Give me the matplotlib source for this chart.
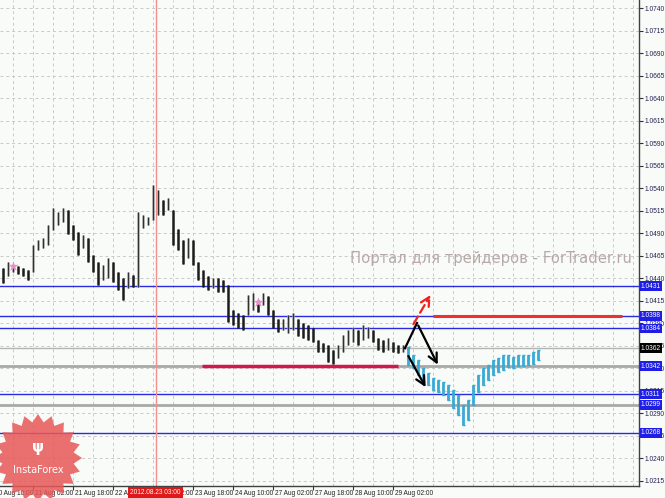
import numpy as np
import matplotlib
matplotlib.use("Agg")
import matplotlib.pyplot as plt
import matplotlib.transforms as mtransforms
from matplotlib import font_manager
from matplotlib.patches import Polygon

# ---------------------------------------------------------------- data
BAR_STEP = 2          # hours between bars
FIRST_BAR = 4         # hours after 20 Aug 10:00

hist_high = [1.0451, 1.0458, 1.0454, 1.0453, 1.0451, 1.0449, 1.0477, 1.0482, 1.0484, 1.0499,
             1.0518, 1.0513, 1.0518, 1.0516, 1.0499, 1.0491, 1.0488, 1.0484, 1.0466, 1.0458,
             1.0454, 1.0462, 1.0458, 1.0447, 1.0440, 1.0447, 1.0443, 1.0513, 1.0510, 1.0508,
             1.0543, 1.0538, 1.0527, 1.0529, 1.0516, 1.0495, 1.0482, 1.0484, 1.0482, 1.0458,
             1.0449, 1.0442, 1.0440, 1.0440, 1.0438, 1.0432, 1.0404, 1.0401, 1.0399, 1.0421,
             1.0423, 1.0416, 1.0423, 1.0420, 1.0404, 1.0395, 1.0395, 1.0399, 1.0401, 1.0395,
             1.0390, 1.0388, 1.0384, 1.0371, 1.0368, 1.0366, 1.0360, 1.0366, 1.0377, 1.0382,
             1.0384, 1.0382, 1.0388, 1.0386, 1.0382, 1.0373, 1.0371, 1.0373, 1.0369, 1.0366,
             1.0366]
hist_low = [1.0435, 1.0442, 1.0447, 1.0445, 1.0442, 1.0438, 1.0447, 1.0471, 1.0473, 1.0477,
            1.0493, 1.0499, 1.0502, 1.0489, 1.0482, 1.0466, 1.0473, 1.0458, 1.0447, 1.0432,
            1.0438, 1.0440, 1.0436, 1.0427, 1.0416, 1.0429, 1.0430, 1.0430, 1.0496, 1.0499,
            1.0504, 1.0510, 1.0510, 1.0516, 1.0477, 1.0471, 1.0456, 1.0462, 1.0454, 1.0438,
            1.0430, 1.0427, 1.0429, 1.0424, 1.0424, 1.0391, 1.0388, 1.0385, 1.0382, 1.0399,
            1.0405, 1.0402, 1.0410, 1.0399, 1.0385, 1.0380, 1.0382, 1.0379, 1.0382, 1.0376,
            1.0373, 1.0371, 1.0369, 1.0358, 1.0358, 1.0347, 1.0345, 1.0351, 1.0358, 1.0366,
            1.0369, 1.0366, 1.0371, 1.0373, 1.0369, 1.0360, 1.0358, 1.0360, 1.0358, 1.0357,
            1.0358]

fc_high = [1.0363, 1.0355, 1.0349, 1.0340, 1.0335, 1.0329, 1.0327, 1.0324, 1.0321, 1.0316,
           1.0310, 1.0299, 1.0304, 1.0321, 1.0332, 1.0340, 1.0343, 1.0349, 1.0351, 1.0355,
           1.0355, 1.0352, 1.0355, 1.0354, 1.0355, 1.0358, 1.0360]
fc_low = [1.0343, 1.0340, 1.0332, 1.0324, 1.0321, 1.0316, 1.0313, 1.0310, 1.0304, 1.0296,
          1.0288, 1.0277, 1.0282, 1.0299, 1.0313, 1.0321, 1.0327, 1.0332, 1.0336, 1.0338,
          1.0341, 1.0340, 1.0342, 1.0342, 1.0343, 1.0345, 1.0349]

blue_levels = [1.0431, 1.0398, 1.0384, 1.0311, 1.0268]
gray_levels = [1.0362]
gray_thick_levels = [1.0342, 1.0299]
label_levels = [1.0431, 1.0398, 1.0384, 1.0342, 1.0311, 1.0299, 1.0268]
current_price = 1.0362

support_line = (83.6, 162.0, 1.0342)     # (start h, end h, price)
target_line = (176.0, 251.6, 1.0398)

zigzag_h = [164.8, 169.6, 178.4]
zigzag_p = [1.0362, 1.0390, 1.0341]
down_h = [165.6, 173.6]
down_p = [1.0356, 1.0316]
up_h = [167.6, 175.6]
up_p = [1.0386, 1.0424]

star_h = [8.0, 106.0]
star_p = [1.0453, 1.0413]

price_ticks = np.arange(1.0215, 1.07401, 0.0025)
time_ticks = [0, 16, 32, 48, 64, 80, 96, 112, 128, 144, 160]
time_labels = ["20 Aug 10:00", "21 Aug 02:00", "21 Aug 18:00", "22 Aug 10:00",
               "23 Aug 02:00", "23 Aug 18:00", "24 Aug 10:00", "27 Aug 02:00",
               "27 Aug 18:00", "28 Aug 10:00", "29 Aug 02:00"]
vline_h = 65
vline_label = "2012.08.23 03:00"

# ---------------------------------------------------------------- fonts
installed = {f.name for f in font_manager.fontManager.ttflist}
if "Liberation Sans Narrow" in installed:
    PRICE_FONT = dict(family="Liberation Sans Narrow", fontsize=5.4)
    TIME_FONT = dict(family="Liberation Sans Narrow", fontsize=5.6)
else:
    PRICE_FONT = dict(family="Liberation Sans", fontsize=4.8)
    TIME_FONT = dict(family="Liberation Sans", fontsize=4.7)

# ---------------------------------------------------------------- figure
BG = "#f8fbf8"
BLUE = "#2a2ae0"
fig = plt.figure(figsize=(6.65, 4.98), dpi=100, facecolor=BG)
ax = fig.add_axes([0, 12 / 498, 639 / 665, 486 / 498])
ax.set_facecolor(BG)
ax.set_xlim(2.8, 258.4)
ax.set_ylim(1.07489 - 486 / 9000, 1.07489)

for s in ("left", "top"):
    ax.spines[s].set_visible(False)
for s in ("right", "bottom"):
    ax.spines[s].set_color("#404040")
    ax.spines[s].set_linewidth(1.0)

# grid
for h in np.arange(8, 258, 8):
    ax.axvline(h, color="#c8cac8", lw=0.7, ls=(0, (3, 3)), zorder=0)
for p in price_ticks:
    ax.axhline(p, color="#c8cac8", lw=0.7, ls=(0, (3, 3)), zorder=0)

# levels
for p in blue_levels:
    ax.axhline(p, color=BLUE, lw=1.0, zorder=1)
for p in gray_levels:
    ax.axhline(p, color="#b4b4b4", lw=1.0, zorder=1)
for p in gray_thick_levels:
    ax.axhline(p, color="#a8a8a8", lw=2.0, zorder=1)

ax.axvline(vline_h, color="#f29090", lw=1.0, zorder=1)

# historical bars
hist_t = FIRST_BAR + BAR_STEP * np.arange(len(hist_high))
mid = (np.array(hist_high) + np.array(hist_low)) / 2
for i, t in enumerate(hist_t):
    up = i > 0 and mid[i] >= mid[i - 1]
    ax.vlines(t, hist_low[i], hist_high[i], color="#9a9a9a" if up else "#1c1c1c",
              lw=1.8, zorder=3)
    ax.vlines(t, hist_low[i], hist_high[i], color="#1c1c1c", lw=0.6, zorder=3)

# forecast bars
fc_t = hist_t[-1] + BAR_STEP * (1 + np.arange(len(fc_high)))
ax.vlines(fc_t, fc_low, fc_high, color="#38aad4", lw=2.0, zorder=3)
ax.hlines(fc_low, fc_t - 0.6, fc_t + 0.6, color="#38aad4", lw=1.0, zorder=3)
ax.hlines(fc_high, fc_t - 0.6, fc_t + 0.6, color="#38aad4", lw=1.0, zorder=3)

ax.scatter(star_h, star_p, marker="*", s=60, color="#e890c8", zorder=4, lw=0)

# red lines
ax.hlines(support_line[2], support_line[0], support_line[1], color="#d0184a", lw=2.5, zorder=4)
ax.hlines(target_line[2], target_line[0], target_line[1], color="#f03030", lw=2.2, zorder=4)

# arrows
ax.plot(zigzag_h[:2], zigzag_p[:2], color="black", lw=1.6, zorder=5)
ax.annotate("", xy=(zigzag_h[2], zigzag_p[2]), xytext=(zigzag_h[1], zigzag_p[1]),
            arrowprops=dict(arrowstyle="->", color="black", lw=1.6, mutation_scale=16), zorder=5)
ax.annotate("", xy=(down_h[1], down_p[1]), xytext=(down_h[0], down_p[0]),
            arrowprops=dict(arrowstyle="->", color="black", lw=1.6, mutation_scale=16), zorder=5)
ax.annotate("", xy=(up_h[1], up_p[1]), xytext=(up_h[0], up_p[0]),
            arrowprops=dict(arrowstyle="->", color="#ee2222", lw=1.6, ls=(0, (4, 2)),
                            mutation_scale=16), zorder=5)

# watermark
ax.text(0.548, 0.469, "Портал для трейдеров - ForTrader.ru", transform=ax.transAxes,
        fontsize=10.6, color="#b8a8a8", ha="left", va="center", zorder=2)

# right axis
ax.yaxis.tick_right()
ax.set_yticks(price_ticks)
ax.set_yticklabels([f"{p:.4f}" for p in price_ticks], **PRICE_FONT)
ax.tick_params(axis="y", length=3, width=0.8, pad=1.0,
               colors="#303030", labelcolor="#202050")
trans = mtransforms.blended_transform_factory(ax.transAxes, ax.transData)
for p in label_levels:
    ax.text(1.003, p, f"{p:.4f}", transform=trans, color="white",
            ha="left", va="center", clip_on=False, zorder=10,
            bbox=dict(boxstyle="square,pad=0.2", fc="#1e1ee6", ec="none"), **PRICE_FONT)
ax.text(1.003, current_price, f"{current_price:.4f}", transform=trans,
        color="white", ha="left", va="center", clip_on=False, zorder=10,
        bbox=dict(boxstyle="square,pad=0.2", fc="black", ec="none"), **PRICE_FONT)

# time axis
ax.set_xticks(time_ticks[1:])
ax.set_xticklabels([])
ax.tick_params(axis="x", length=3, width=0.8, colors="#303030")
ttrans = mtransforms.blended_transform_factory(ax.transData, ax.transAxes)
for t, lab in zip(time_ticks, time_labels):
    ax.text(t + 0.8, -0.008, lab, transform=ttrans, color="#202020",
            ha="left", va="top", clip_on=False, **TIME_FONT)
ax.text(vline_h, -0.006, vline_label, transform=ttrans, color="white",
        ha="center", va="top", clip_on=False, zorder=11,
        bbox=dict(boxstyle="square,pad=0.3", fc="#e01818", ec="none"), **TIME_FONT)

# InstaForex seal
cx, cy = 38, 498 - 458
n = 40
ang = np.linspace(0, 2 * np.pi, n + 1)[:-1]
rad = np.where(np.arange(n) % 2 == 0, 44, 36)
pts = np.column_stack([(cx + rad * np.cos(ang)) / 665, (cy + rad * np.sin(ang)) / 498])
fig.patches.append(Polygon(pts, closed=True, transform=fig.transFigure,
                           fc="#e85858", ec="none", alpha=0.85, zorder=20))
fig.text(cx / 665, (498 - 470) / 498, "InstaForex", color="white", fontsize=7,
         ha="center", va="center", zorder=21)
fig.text(cx / 665, (498 - 447) / 498, "ψ", color="white", fontsize=11,
         ha="center", va="center", zorder=21, fontweight="bold")

fig.savefig("out.png", dpi=100, facecolor=BG)
